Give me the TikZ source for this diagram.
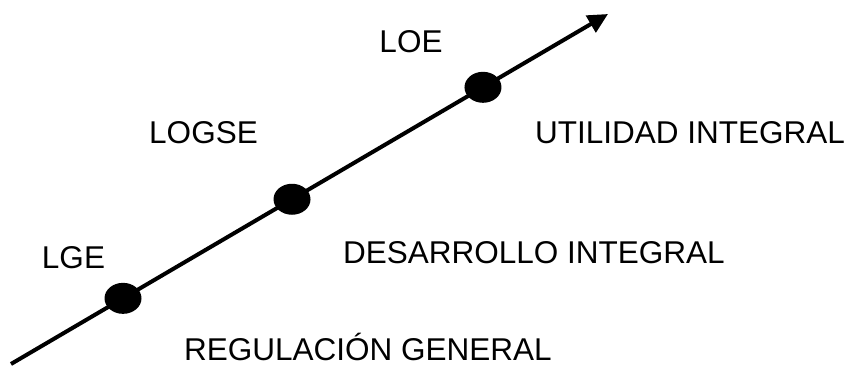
\documentclass[tikz,border=0pt]{standalone}
\usepackage{fontspec}
\setmainfont{Liberation Sans}
\usetikzlibrary{arrows.meta,shapes.geometric}
\tikzset{
  lab/.style={anchor=base,inner sep=0pt,font=\fontsize{31.5}{38}\selectfont},
  dot/.style={ellipse,fill=black,minimum width=37pt,minimum height=31pt,inner sep=0pt}
}
\begin{document}
\begin{tikzpicture}[x=1pt,y=-1pt]
    \useasboundingbox (0,0) rectangle (852,365);
    \coordinate (start) at (11,364);
    \coordinate (end) at (608,14);

    \draw[line width=4pt,-{Triangle[length=20pt,width=19pt]}] (start) --
        node[dot,pos=0.1876] (lge) {}
        node[dot,pos=0.4707] (logse) {}
        node[dot,pos=0.7906] (loe) {} (end);

    \node[lab] (tlge) at (73.5,268) {LGE};
    \node[lab] (tlogse) at (203.5,143) {LOGSE};
    \node[lab] (tloe) at (411,52) {LOE};
    \node[lab] (reg) at (368,360) {REGULACIÓN GENERAL};
    \node[lab] (des) at (534,263) {DESARROLLO INTEGRAL};
    \node[lab] (uti) at (690,143) {UTILIDAD INTEGRAL};
\end{tikzpicture}
\end{document}
